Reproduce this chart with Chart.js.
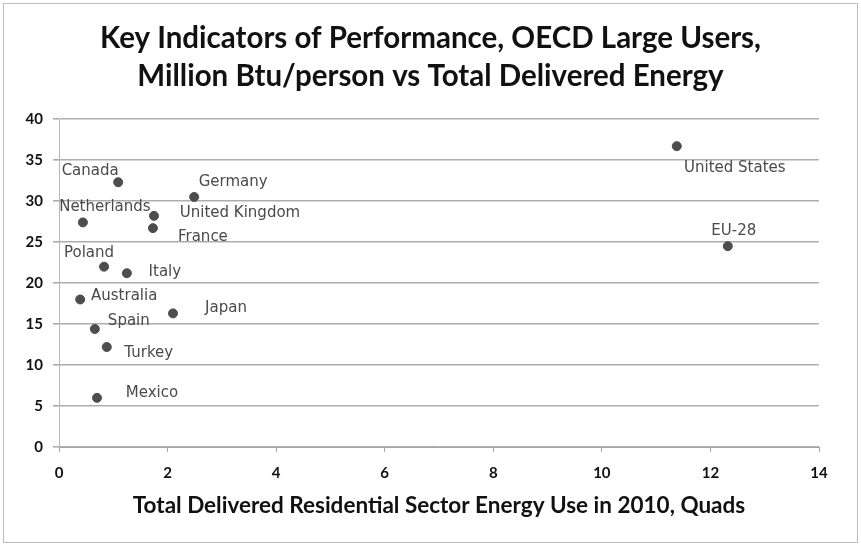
<!DOCTYPE html>
<html>
<head>
<meta charset="utf-8">
<script src="https://cdn.jsdelivr.net/npm/chart.js@4"></script>
<style>
  html, body { margin: 0; padding: 0; background: #fff; }
  #wrap { width: 861px; height: 546px; }
</style>
</head>
<body>
<div id="wrap"><canvas id="chart" width="861" height="546"></canvas></div>
<script>
// countries and their two indicators
const countries = ['United States', 'EU-28', 'Canada', 'Germany', 'Netherlands', 'United Kingdom',
  'France', 'Poland', 'Italy', 'Australia', 'Japan', 'Spain', 'Turkey', 'Mexico'];
const deliveredQuads = [11.38, 12.32, 1.09, 2.49, 0.44, 1.75, 1.73, 0.83, 1.25, 0.39, 2.10, 0.66, 0.88, 0.70];
const btuPerPerson = [36.7, 24.5, 32.3, 30.5, 27.4, 28.2, 26.7, 22.0, 21.2, 18.0, 16.3, 14.4, 12.2, 6.0];
const xTicks = [0, 2, 4, 6, 8, 10, 12, 14];
const yTicks = [0, 5, 10, 15, 20, 25, 30, 35, 40];

// where each label sits relative to its dot (px)
const labelShift = [
  [58, 22], [6, -15], [-28, -11], [39, -15], [22, -15], [86, -3], [50, 9],
  [-15, -14], [38, -1], [44, -3], [53, -5], [34, -8], [42, 6], [55, -5]
];

const points = deliveredQuads.map((x, i) => ({ x: x, y: btuPerPerson[i] }));

const frame = {
  id: 'frame',
  beforeDraw(chart) {
    const c = chart.ctx;
    c.save();
    c.fillStyle = '#fff';
    c.fillRect(0, 0, chart.width, chart.height);
    c.strokeStyle = '#bdbdbd';
    c.lineWidth = 1;
    c.strokeRect(3.5, 3.5, 854, 539);
    c.restore();
  }
};

const pointNames = {
  id: 'pointNames',
  afterDatasetsDraw(chart) {
    const c = chart.ctx;
    const meta = chart.getDatasetMeta(0);
    c.save();
    c.font = '15px "DejaVu Sans"';
    c.fillStyle = '#4a4a4a';
    c.textAlign = 'center';
    c.textBaseline = 'middle';
    meta.data.forEach((el, i) => {
      c.fillText(countries[i], el.x + labelShift[i][0], el.y + labelShift[i][1]);
    });
    c.restore();
  }
};

const tickFont = { family: 'Lato', size: 15, weight: 'bold' };

new Chart(document.getElementById('chart'), {
  type: 'scatter',
  data: {
    datasets: [{
      data: points,
      backgroundColor: '#4d4d4d',
      borderColor: '#4d4d4d',
      pointRadius: 4.5,
      pointHoverRadius: 4.5
    }]
  },
  options: {
    responsive: false,
    animation: false,
    layout: { padding: 0 },
    plugins: {
      legend: { display: false },
      tooltip: { enabled: false },
      title: {
        display: true,
        text: ['Key Indicators of Performance, OECD Large Users,', 'Million Btu/person vs Total Delivered Energy'],
        color: '#111',
        font: { family: 'Lato', size: 29.5, weight: 'bold', lineHeight: 1.29 },
        padding: { top: 19.5, bottom: 23.5 }
      }
    },
    scales: {
      x: {
        type: 'linear',
        min: 0,
        max: 14,
        afterBuildTicks: s => { s.ticks = xTicks.map(v => ({ value: v })); },
        afterFit: s => { s.height = 99; },
        grid: { drawOnChartArea: false, drawTicks: true, tickLength: 5, color: '#a6a6a6' },
        border: { color: '#a6a6a6' },
        ticks: { color: '#111', padding: 12, font: tickFont },
        title: {
          display: true,
          text: 'Total Delivered Residential Sector Energy Use in 2010, Quads',
          color: '#111',
          font: { family: 'Lato', size: 22.5, weight: 'bold', lineHeight: 1.2 },
          padding: { top: 0, bottom: 27 }
        }
      },
      y: {
        type: 'linear',
        min: 0,
        max: 40,
        afterBuildTicks: s => { s.ticks = yTicks.map(v => ({ value: v })); },
        afterFit: s => { s.width = 59; },
        grid: { color: '#adadad', lineWidth: 1.6, tickLength: 6 },
        border: { color: '#b8b8b8', width: 1 },
        ticks: { color: '#111', padding: 10, font: tickFont }
      },
      // empty strip on the right so the plot ends short of the frame
      gap: {
        type: 'linear',
        position: 'right',
        display: true,
        afterFit: s => { s.width = 42; },
        grid: { display: false },
        border: { display: false },
        ticks: { display: false }
      }
    }
  },
  plugins: [frame, pointNames]
});
</script>
</body>
</html>
